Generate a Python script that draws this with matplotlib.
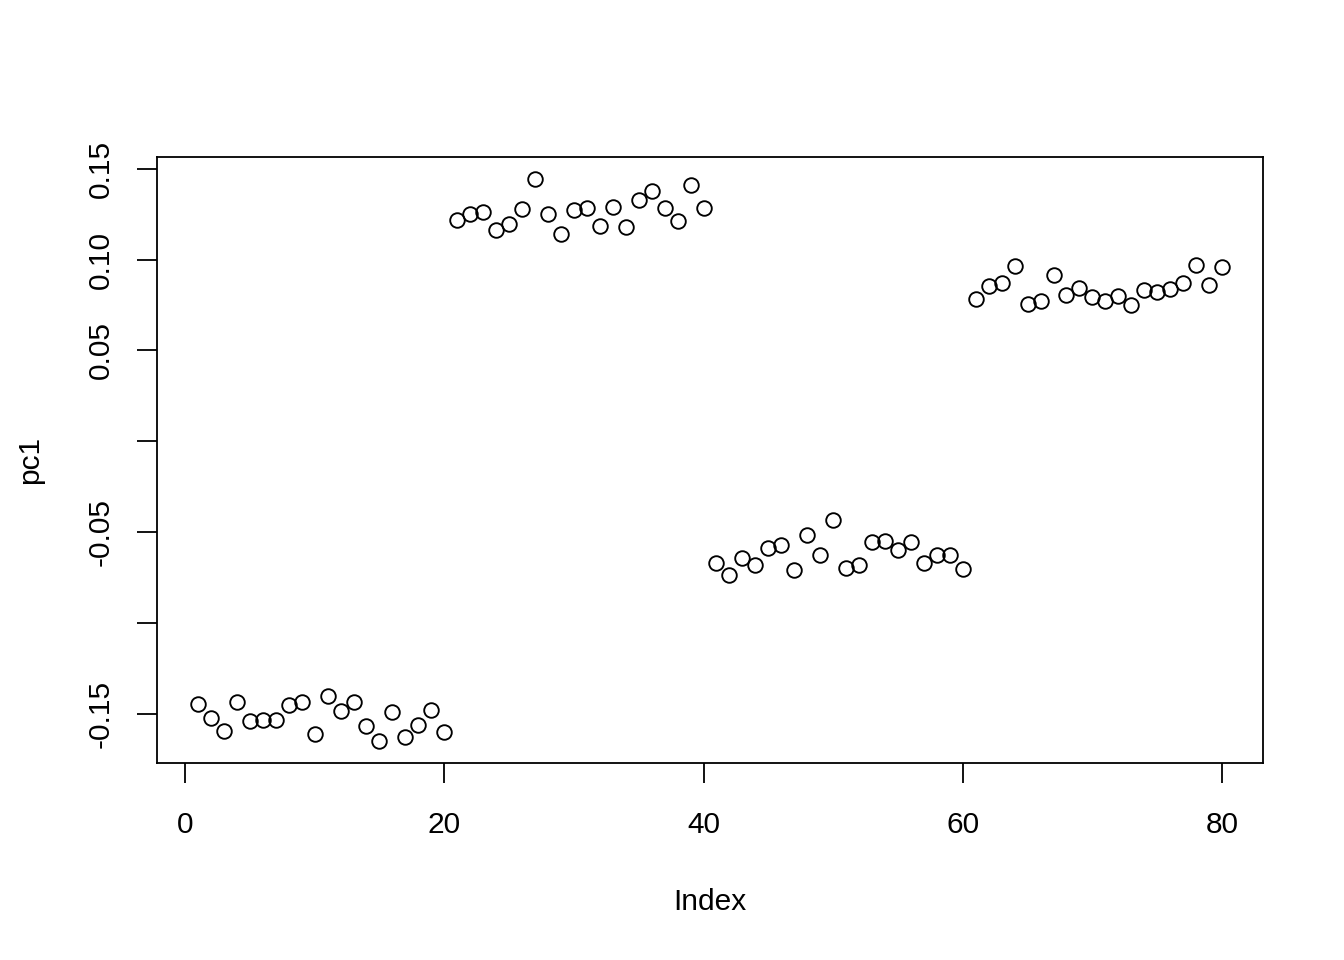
import matplotlib
matplotlib.use('Agg')
import matplotlib.pyplot as plt
import numpy as np

plt.rcParams['font.family'] = ['Liberation Sans', 'DejaVu Sans']

group1 = [-0.1449, -0.1526, -0.1596, -0.1434, -0.1539, -0.1536, -0.1536, -0.1455, -0.1437, -0.1611,
          -0.1404, -0.1486, -0.1434, -0.1569, -0.1649, -0.1490, -0.1627, -0.1565, -0.1479, -0.1600]
group2 = [0.1221, 0.1249, 0.1264, 0.1162, 0.1198, 0.1280, 0.1442, 0.1253, 0.1143, 0.1273,
          0.1282, 0.1184, 0.1289, 0.1179, 0.1331, 0.1381, 0.1286, 0.1212, 0.1414, 0.1286]
group3 = [-0.0673, -0.0739, -0.0644, -0.0684, -0.0587, -0.0574, -0.0710, -0.0519, -0.0625, -0.0436,
          -0.0699, -0.0684, -0.0556, -0.0550, -0.0600, -0.0553, -0.0669, -0.0629, -0.0627, -0.0702]
group4 = [0.0786, 0.0854, 0.0869, 0.0964, 0.0757, 0.0775, 0.0913, 0.0805, 0.0845, 0.0796,
          0.0775, 0.0799, 0.0753, 0.0832, 0.0823, 0.0840, 0.0869, 0.0968, 0.0860, 0.0961]

pc1 = np.array(group1 + group2 + group3 + group4)
index = np.arange(1, len(pc1) + 1)

xticks = [0, 20, 40, 60, 80]
yticks = [-0.15, -0.10, -0.05, 0.0, 0.05, 0.10, 0.15]
yticklabels = ['-0.15', '', '-0.05', '', '0.05', '0.10', '0.15']

fig = plt.figure(figsize=(13.44, 9.6), dpi=100)
ax = fig.add_axes([157/1344, 1 - 763/960, (1263-157)/1344, (763-157)/960])

ax.plot(index, pc1, linestyle='none', marker='o', markersize=10.5,
        markerfacecolor='none', markeredgecolor='black', markeredgewidth=1.35)

# R style 4% padding on the ranges
xr = index.max() - index.min()
ax.set_xlim(index.min() - 0.04 * xr, index.max() + 0.04 * xr)
yr = pc1.max() - pc1.min()
ax.set_ylim(pc1.min() - 0.04 * yr, pc1.max() + 0.04 * yr)

ax.set_xticks(xticks)
ax.set_xticklabels([str(t) for t in xticks])
ax.set_yticks(yticks)
ax.set_yticklabels(yticklabels, va='center')

for s in ax.spines.values():
    s.set_linewidth(1.3)
ax.tick_params(axis='both', length=14.4, width=1.3, labelsize=21.5)
ax.tick_params(axis='x', pad=20)
ax.tick_params(axis='y', labelrotation=90, pad=16)

ax.set_xlabel('Index', fontsize=21.5, va='center')
ax.xaxis.set_label_coords(0.5, (763 - 901.7) / 606)
ax.set_ylabel('pc1', fontsize=21.5, va='center', ha='center')
ax.yaxis.set_label_coords((30 - 157) / 1106, 0.5)

fig.savefig('out.png', dpi=100)
